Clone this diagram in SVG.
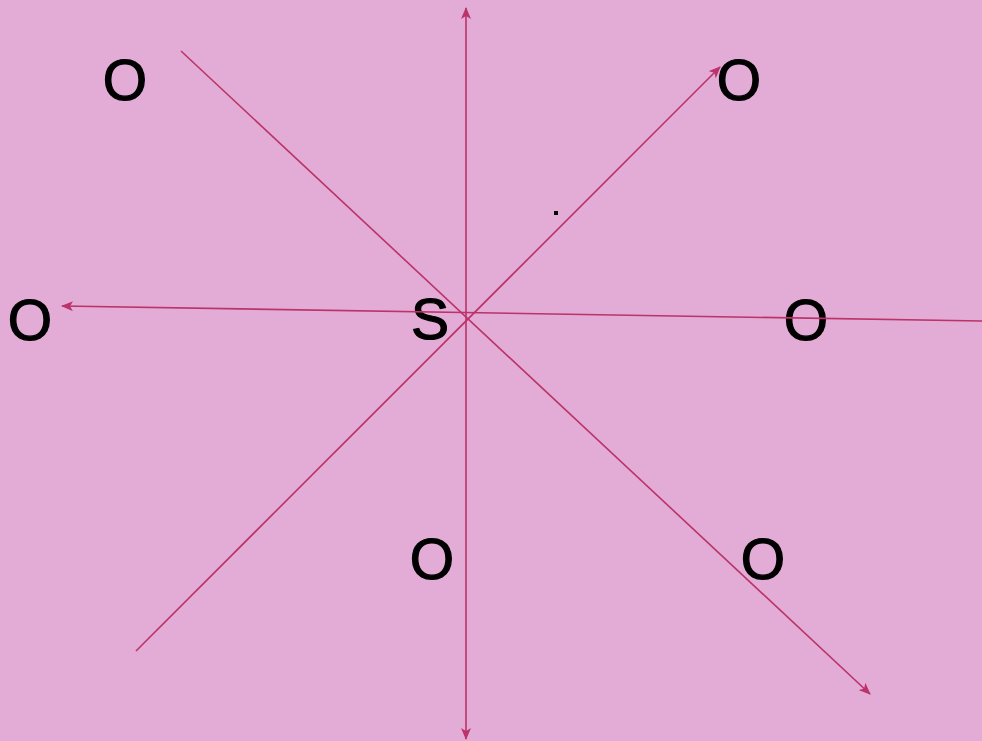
<svg xmlns="http://www.w3.org/2000/svg" width="982" height="741" viewBox="0 0 982 741">
<style>
.ln{stroke:#bb3368;stroke-width:1.6;fill:none}
.t{font-family:"Liberation Sans",Arial,sans-serif;font-size:57px;fill:#000;stroke:#000;stroke-width:1.2;text-anchor:middle}
</style>
<defs>
<marker id="ah" viewBox="0 0 12 10" refX="11" refY="5" markerWidth="12" markerHeight="10" markerUnits="userSpaceOnUse" orient="auto-start-reverse">
<path d="M0,0 L12,5 L0,10 L3,5 Z" fill="#bb3368"/>
</marker>
</defs>
<rect width="982" height="741" fill="#e3acd6"/>
<g id="s"><text class="t" x="430" y="339">S</text></g>
<g id="o-tl"><text class="t" x="125" y="100">O</text></g>
<g id="o-tr"><text class="t" x="739" y="100">O</text></g>
<g id="o-l"><text class="t" x="30" y="340">O</text></g>
<g id="o-r"><text class="t" x="806" y="340">O</text></g>
<g id="o-b"><text class="t" x="432" y="579">O</text></g>
<g id="o-br"><text class="t" x="763" y="579">O</text></g>
<rect x="554" y="211" width="4" height="4" fill="#000"/>
<g id="connectors">
<line class="ln" x1="466" y1="8" x2="466" y2="739" marker-start="url(#ah)" marker-end="url(#ah)"/>
<line class="ln" x1="181" y1="51" x2="870" y2="694" marker-end="url(#ah)"/>
<line class="ln" x1="136" y1="651" x2="720" y2="67" marker-end="url(#ah)"/>
<line class="ln" x1="982" y1="321" x2="62" y2="306" marker-end="url(#ah)"/>
</g>
</svg>
